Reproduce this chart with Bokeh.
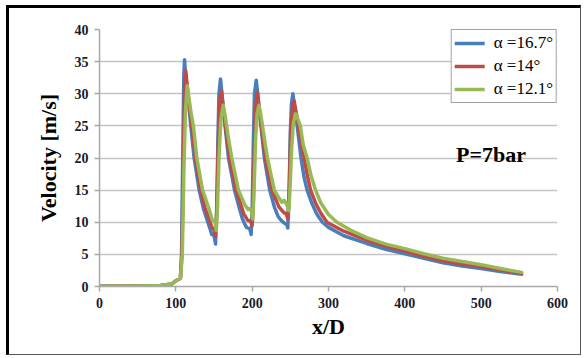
from bokeh.plotting import figure
from bokeh.models import Range1d, FixedTicker, Legend, LegendItem, Label
from bokeh.embed import file_html
from bokeh.resources import INLINE

# ---------------- data ----------------
blue_x = [0, 50, 80, 95, 100, 103, 106, 107.5, 109, 110.5, 111.4, 112.5, 114, 115.7, 119.6, 124, 130.6, 136, 141.9,
          145, 147, 149, 150.5, 152, 153.5, 155, 156.5, 158.5, 160, 162, 164.5, 169, 176.9, 183, 187, 190,
          192.6, 195, 197, 198.7, 200, 201.5, 203, 205.3, 207, 209, 211.5, 216, 223, 229, 234, 238,
          240.6, 243, 245, 246.7, 248.3, 250, 251.5, 253.3, 255, 258, 261, 264, 268, 272, 278, 285, 292,
          300, 320, 350, 375, 400, 425, 450, 475, 500, 525, 553]
blue_v = [0.05, 0.08, 0.15, 0.4, 0.9, 1.1, 1.3, 5, 20, 33, 35.3, 33.5, 31.5, 30, 25, 20, 15, 12.2, 10,
          8.9, 8.1, 8.1, 7.7, 6.6, 12, 22, 30, 32.3, 30.5, 27.8, 25, 20, 15, 12.3, 10.6, 9.8,
          9.2, 9.1, 8.9, 8.1, 12, 22, 30, 32.1, 30.3, 27.6, 25, 20, 15, 12.4, 10.9, 10.3,
          10.0, 9.8, 9.7, 9.1, 14, 24, 28.5, 30.0, 28.5, 26, 23, 20, 17, 15, 13, 11.2, 10,
          9.2, 7.9, 6.7, 5.8, 5.1, 4.4, 3.7, 3.2, 2.8, 2.35, 1.9]

red_x = [0, 50, 80, 95, 100, 103, 106, 108, 110, 111.5, 113, 114.5, 117, 121, 125.7, 132.7, 138, 145,
         146.5, 148.5, 150.5, 152, 153.8, 155.5, 157.5, 159.8, 161.5, 163.5, 166, 171, 179, 189,
         194.3, 197, 198.5, 200, 201.5, 203, 205, 207, 208.5, 210.5, 213, 218, 226, 235,
         240.6, 243, 245, 246.7, 248.5, 250.5, 253, 255, 257, 260, 264, 268, 272, 276.5, 283, 290, 298,
         320, 350, 375, 400, 425, 450, 475, 500, 525, 553]
red_v = [0.05, 0.08, 0.15, 0.4, 0.9, 1.1, 1.3, 5, 20, 31, 33.5, 31.8, 28.5, 25, 20, 15, 12.3, 10,
         9.4, 9.0, 8.8, 7.8, 12, 22, 29, 30.4, 28.6, 26.5, 24, 19.5, 15, 11.3,
         10.3, 10.2, 10.0, 9.5, 13, 22, 28.5, 30.2, 28.6, 26.5, 24, 19.5, 15, 12.4,
         11.6, 11.4, 11.2, 10.5, 15, 24, 28, 28.9, 27.5, 25.5, 22.5, 20, 17.5, 15, 13, 11.4, 10,
         8.6, 7.2, 6.3, 5.5, 4.7, 4.0, 3.5, 3.1, 2.6, 2.05]

green_x = [0, 50, 80, 95, 100, 103, 106, 108.5, 110.5, 112.5, 114.9, 117, 120, 123, 127.5, 135, 143.7,
           147.6, 150, 151.5, 153, 154.5, 156.5, 159, 162, 164, 166.5, 169, 173.3, 182, 190,
           194.3, 197, 199, 200.8, 202.5, 204.5, 206.5, 208.8, 211, 213.5, 216, 220, 229, 236,
           239, 242, 246, 248, 249.5, 251.5, 254, 257.2, 260, 263, 267, 272, 277, 283, 290, 300, 311,
           330, 350, 375, 400, 425, 450, 475, 500, 525, 553]
green_v = [0.05, 0.08, 0.15, 0.4, 0.9, 1.1, 1.3, 5, 18, 27, 31.3, 29.5, 27, 25, 20, 15, 12,
           10.4, 10.2, 9.9, 8.7, 12, 20, 26, 28.2, 27, 25, 23, 20, 15, 12.8,
           12.0, 12.1, 11.7, 10.5, 15, 23, 27, 28.2, 27, 25, 23, 20, 15, 13.6,
           13.1, 13.4, 12.6, 11.8, 15, 21, 25.5, 26.9, 26, 25, 22, 20, 17.3, 15, 13, 11.2, 10,
           8.7, 7.6, 6.6, 5.9, 5.1, 4.4, 3.9, 3.4, 2.8, 2.2]

series_labels = ["\u03b1 =16.7\u00b0", "\u03b1 =14\u00b0", "\u03b1 =12.1\u00b0"]
series_colors = ["#4A7EBB", "#BE4B48", "#98B954"]
x_ticks = [0, 100, 200, 300, 400, 500, 600]
y_ticks = [0, 5, 10, 15, 20, 25, 30, 35, 40]
annotation_text = "P=7bar"

SERIF = "Liberation Serif"

# ---------------- figure ----------------
p = figure(width=575, height=350, output_backend="svg", toolbar_location=None,
           x_range=Range1d(0, 600), y_range=Range1d(0, 40),
           min_border_left=90, min_border_right=27, min_border_top=21, min_border_bottom=72)
p.styles = {"margin-left": "6px", "margin-top": "5px",
            "border-left": "3px solid #000", "border-top": "3px solid #000",
            "border-right": "1px solid #555", "border-bottom": "1px solid #555"}
p.outline_line_color = None
p.background_fill_color = "white"
p.border_fill_color = "white"

p.xgrid.grid_line_color = None
p.ygrid.grid_line_color = "#C4C4C4"
p.ygrid.grid_line_width = 1.5

p.xaxis.ticker = FixedTicker(ticks=x_ticks)
p.yaxis.ticker = FixedTicker(ticks=y_ticks)
for ax in (p.xaxis, p.yaxis):
    ax.axis_line_color = "#A8A8A8"
    ax.axis_line_width = 1.5
    ax.major_tick_line_color = "#A8A8A8"
    ax.major_tick_line_width = 1.5
    ax.major_tick_out = 5
    ax.major_tick_in = 0
    ax.minor_tick_line_color = None
    ax.major_label_text_font = SERIF
    ax.major_label_text_font_style = "bold"
    ax.major_label_text_font_size = "14px"
    ax.major_label_text_color = "#1A1A2A"
    ax.axis_label_text_font = SERIF
    ax.axis_label_text_font_style = "bold"
    ax.axis_label_text_font_size = "22px"
    ax.axis_label_text_color = "#000"
p.xaxis.axis_label = "x/D"
p.yaxis.axis_label = "Velocity [m/s]"
p.xaxis.major_label_standoff = 6
p.yaxis.major_label_standoff = 6
p.xaxis.axis_label_standoff = 3
p.yaxis.axis_label_standoff = 11

renderers = []
for xs, vs, col in zip([blue_x, red_x, green_x], [blue_v, red_v, green_v], series_colors):
    r = p.line(xs, vs, line_color=col, line_width=3.5, line_join="round", line_cap="round")
    renderers.append(r)

legend = Legend(items=[LegendItem(label=lab, renderers=[r]) for lab, r in zip(series_labels, renderers)],
                location="top_right")
legend.margin = 0
legend.padding = 3
legend.spacing = 3
legend.glyph_width = 30
legend.glyph_height = 20
legend.label_height = 20
legend.label_standoff = 9
legend.label_text_font = SERIF
legend.label_text_font_size = "17px"
legend.label_text_color = "#000"
legend.border_line_color = "#444"
legend.border_line_width = 1
legend.background_fill_color = "white"
legend.background_fill_alpha = 1
p.add_layout(legend, "center")

p.add_layout(Label(x=467, y=20.6, text=annotation_text, text_font=SERIF,
                   text_font_style="bold", text_font_size="22px", text_color="#000",
                   text_baseline="alphabetic"))

open("out.html", "w").write(file_html(p, INLINE))
